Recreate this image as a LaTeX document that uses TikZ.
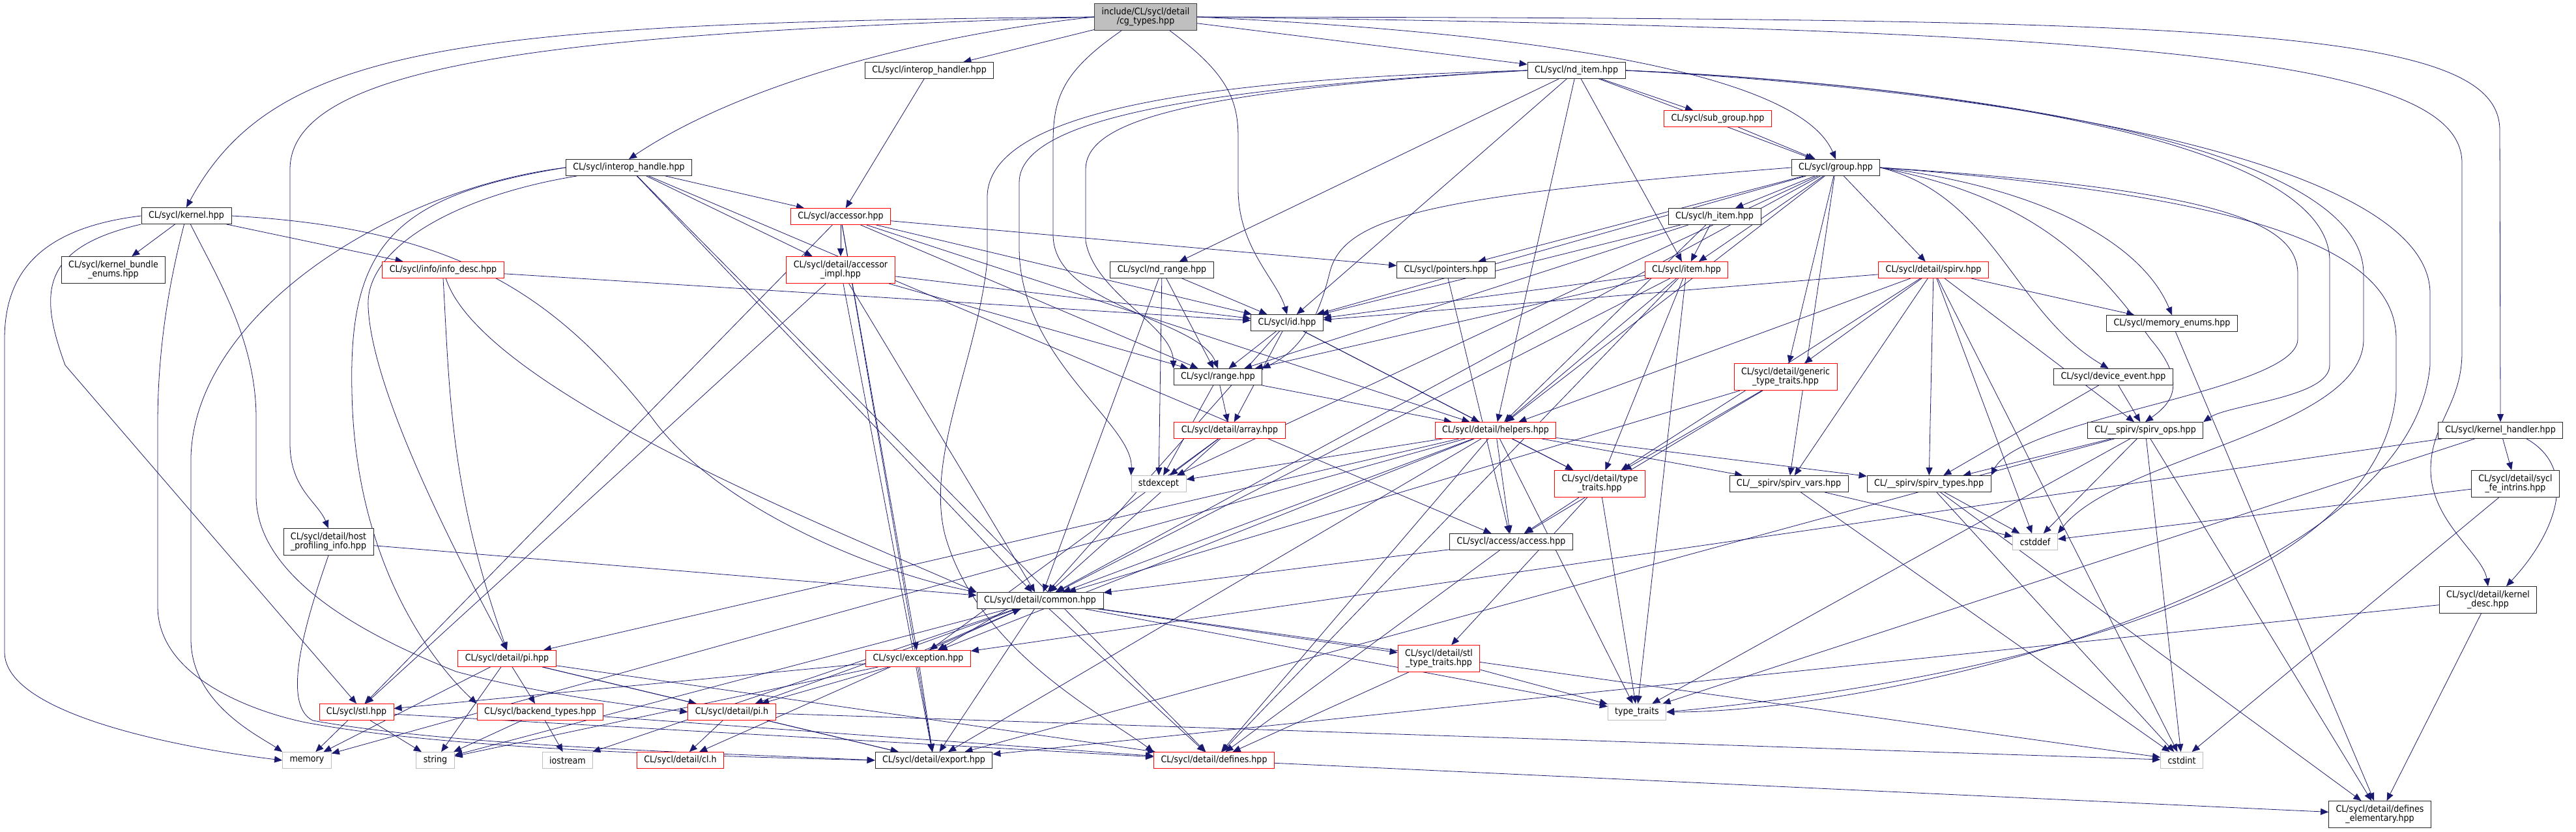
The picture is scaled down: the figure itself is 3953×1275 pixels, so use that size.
\documentclass[tikz,border=0pt]{standalone}
\usepackage{fontspec}
\setmainfont{DejaVu Sans}[FakeStretch=0.9]
\usetikzlibrary{arrows.meta, calc, backgrounds}
\definecolor{edgeblue}{HTML}{191970}
\definecolor{lightgray}{HTML}{BFBFBF}

\begin{document}
\begin{tikzpicture}[
  x=0.02cm, y=0.02cm,
  font=\fontsize{8}{8.2}\selectfont,
  file/.style    ={draw=black!85, fill=white, line width=0.5pt, align=center,
                   inner xsep=0.22cm, inner ysep=0pt, minimum height=0.5cm},
  trunc/.style   ={file, draw=red},
  sysfile/.style ={file, draw=lightgray},
  rootfile/.style={file, fill=lightgray, draw=black!75},
  twoline/.style ={minimum height=0.82cm},
  dep/.style     ={draw=edgeblue, line width=0.45pt,
                   -{Triangle[length=0.24cm, width=0.2cm]}},
]
\useasboundingbox (0,0) rectangle (3953,-1275);

% rank 0 .. 3
\node[rootfile, twoline] (root) at (1758,-26) {include/CL/sycl/detail\\/cg\_types.hpp};
\node[file]  (ihandler) at (1426,-108) {CL/sycl/interop\_handler.hpp};
\node[file]  (nditem)   at (2419,-108) {CL/sycl/nd\_item.hpp};
\node[trunc] (subgroup) at (2636,-182) {CL/sycl/sub\_group.hpp};
\node[file]  (ihandle)  at (965,-257)  {CL/sycl/interop\_handle.hpp};
\node[file]  (group)    at (2817,-257) {CL/sycl/group.hpp};

% rank 4 .. 7
\node[file]  (kernel)   at (286,-331)  {CL/sycl/kernel.hpp};
\node[trunc] (accessor) at (1290,-332) {CL/sycl/accessor.hpp};
\node[file]  (hitem)    at (2631,-332) {CL/sycl/h\_item.hpp};
\node[file, twoline]  (kbundle)  at (174,-414)  {CL/sycl/kernel\_bundle\\\_enums.hpp};
\node[trunc] (infodesc) at (680,-414)  {CL/sycl/info/info\_desc.hpp};
\node[trunc, twoline] (accimpl)  at (1290,-414) {CL/sycl/detail/accessor\\\_impl.hpp};
\node[file]  (ndrange)  at (1783,-414) {CL/sycl/nd\_range.hpp};
\node[file]  (pointers) at (2219,-414) {CL/sycl/pointers.hpp};
\node[trunc] (item)     at (2588,-414) {CL/sycl/item.hpp};
\node[trunc] (spirv)    at (2967,-414) {CL/sycl/detail/spirv.hpp};
\node[file]  (id)       at (1975,-495) {CL/sycl/id.hpp};
\node[file]  (memenums) at (3333,-496) {CL/sycl/memory\_enums.hpp};
\node[file]  (range)    at (1869,-578) {CL/sycl/range.hpp};
\node[trunc, twoline] (generic)  at (2740,-578) {CL/sycl/detail/generic\\\_type\_traits.hpp};
\node[file]  (devevent) at (3243,-578) {CL/sycl/device\_event.hpp};

% rank 8 .. 11
\node[trunc] (array)    at (1887,-660) {CL/sycl/detail/array.hpp};
\node[trunc] (helpers)  at (2295,-660) {CL/sycl/detail/helpers.hpp};
\node[file]  (spirvops) at (3292,-660) {CL/\_\_spirv/spirv\_ops.hpp};
\node[file]  (khandler) at (3837,-660) {CL/sycl/kernel\_handler.hpp};
\node[sysfile] (stdexcept) at (1778,-742) {stdexcept};
\node[trunc, twoline] (typetrd) at (2455,-742) {CL/sycl/detail/type\\\_traits.hpp};
\node[file]  (spirvvars)  at (2745,-742) {CL/\_\_spirv/spirv\_vars.hpp};
\node[file]  (spirvtypes) at (2960,-742) {CL/\_\_spirv/spirv\_types.hpp};
\node[file, twoline] (feintrins) at (3860,-742) {CL/sycl/detail/sycl\\\_fe\_intrins.hpp};
\node[file, twoline] (hostprof)  at (504,-831)  {CL/sycl/detail/host\\\_profiling\_info.hpp};
\node[file]  (access)   at (2319,-831) {CL/sycl/access/access.hpp};
\node[sysfile] (cstddef) at (3123,-831) {cstddef};
\node[file]  (common)   at (1596,-921) {CL/sycl/detail/common.hpp};
\node[file, twoline] (kdesc) at (3818,-920) {CL/sycl/detail/kernel\\\_desc.hpp};

% rank 12 .. 15
\node[trunc] (dpi)       at (778,-1010)  {CL/sycl/detail/pi.hpp};
\node[trunc] (exception) at (1409,-1010) {CL/sycl/exception.hpp};
\node[trunc, twoline] (stltt) at (2208,-1010) {CL/sycl/detail/stl\\\_type\_traits.hpp};
\node[trunc] (stl)       at (547,-1092)  {CL/sycl/stl.hpp};
\node[trunc] (backend)   at (829,-1092)  {CL/sycl/backend\_types.hpp};
\node[trunc] (pih)       at (1123,-1092) {CL/sycl/detail/pi.h};
\node[sysfile] (typetraits) at (2512,-1092) {type\_traits};
\node[sysfile] (memory)  at (471,-1166)  {memory};
\node[sysfile] (string)  at (668,-1166)  {string};
\node[sysfile] (iostream) at (871,-1166) {iostream};
\node[trunc] (clh)       at (1044,-1166) {CL/sycl/detail/cl.h};
\node[file]  (export)    at (1433,-1166) {CL/sycl/detail/export.hpp};
\node[trunc] (defines)   at (1863,-1166) {CL/sycl/detail/defines.hpp};
\node[sysfile] (cstdint) at (3348,-1166) {cstdint};
\node[file, twoline] (defel) at (3652,-1249) {CL/sycl/detail/defines\\\_elementary.hpp};

\begin{scope}[on background layer]
\fill[white] (0,0) rectangle (3953,-1275);
% includes of the root file
\draw[dep] (root.west) .. controls (700,-35) and (420,-70) .. (kernel.north);
\draw[dep] (root.west) .. controls (900,-50) and (445,-90) .. (445,-260)
  -- (445,-680) .. controls (445,-750) and (488,-770) .. (hostprof.north);
\draw[dep] (root.west) .. controls (1450,-50) and (1150,-120) .. (ihandle.north);
\draw[dep] (root) -- (ihandler);
\draw[dep] ($(root.south)+(-37,0)$) .. controls (1630,-110) and (1616,-150) .. (1616,-220)
  -- (1616,-360) .. controls (1616,-470) and (1840,-490) .. (range.north);
\draw[dep] ($(root.south)+(37,0)$) .. controls (1880,-110) and (1900,-150) .. (1900,-210)
  -- (1900,-290) .. controls (1900,-380) and (1960,-430) .. (id.north);
\draw[dep] (root) -- (nditem);
\draw[dep] (root.east) .. controls (2350,-50) and (2760,-110) .. (group.north);
\draw[dep] (root.east) .. controls (3300,-45) and (3778,-90) .. (3778,-250)
  -- (3778,-540) .. controls (3778,-620) and (3730,-650) .. (3730,-720)
  .. controls (3730,-800) and (3810,-850) .. (kdesc.north);
\draw[dep] (root.east) .. controls (3400,-28) and (3836,-40) .. (3836,-200) -- (khandler.north);

% long sweeps on the left
\draw[dep] (kernel.west) .. controls (60,-350) and (7,-420) .. (7,-520)
  -- (7,-1000) .. controls (7,-1100) and (300,-1150) .. (memory.west);
\draw[dep] (kernel.south west) .. controls (60,-380) and (60,-450) .. (100,-560) -- (stl.north);
\draw[dep] (kernel) .. controls (255,-450) and (242,-550) .. (242,-650)
  -- (242,-930) .. controls (242,-1050) and (420,-1100) .. (480,-1110)
  .. controls (700,-1150) and (1100,-1160) .. (export.west);
\draw[dep] (kernel) .. controls (330,-420) and (393,-520) .. (393,-640)
  -- (393,-760) .. controls (393,-900) and (600,-990) .. (700,-1030)
  .. controls (850,-1070) and (1000,-1085) .. (pih.west);
\draw[dep] (kernel.east) .. controls (700,-350) and (850,-450) .. (1000,-640)
  .. controls (1100,-780) and (1350,-880) .. (common.north west);
\draw[dep] (ihandle.west) .. controls (600,-290) and (300,-480) .. (293,-700)
  -- (293,-980) .. controls (293,-1080) and (400,-1130) .. (memory.north west);
\draw[dep] (ihandle.west) .. controls (600,-300) and (535,-380) .. (540,-600)
  .. controls (545,-900) and (700,-1050) .. (backend.north west);
\draw[dep] (ihandle) .. controls (700,-300) and (560,-380) .. (565,-470)
  .. controls (570,-600) and (700,-850) .. (dpi.north);
\draw[dep] (infodesc.south) .. controls (690,-600) and (690,-750) .. (dpi.north);
\draw[dep] (infodesc) .. controls (740,-600) and (1300,-820) .. (common.north west);
\draw[dep] (hostprof.south) .. controls (470,-950) and (430,-1080) .. (480,-1105)
  .. controls (700,-1145) and (1100,-1155) .. (export.west);
\draw[dep] (nditem.west) .. controls (1900,-120) and (1520,-160) .. (1515,-300)
  -- (1515,-400) .. controls (1500,-550) and (1420,-700) .. (1450,-820)
  .. controls (1500,-1000) and (1700,-1100) .. (defines.north west);
\draw[dep] (nditem.west) .. controls (1800,-140) and (1666,-190) .. (1666,-260)
  -- (1666,-370) .. controls (1680,-450) and (1800,-500) .. (range.north west);
\draw[dep] (nditem.west) .. controls (1850,-135) and (1564,-180) .. (1564,-280)
  -- (1564,-380) .. controls (1564,-550) and (1740,-650) .. (stdexcept.north west);
\draw[dep] (group.west) .. controls (2200,-300) and (2060,-330) .. (2040,-420)
  .. controls (2020,-500) and (1990,-540) .. (range.north east);

% long sweeps on the right
\draw[dep] (nditem.east) .. controls (2900,-125) and (3575,-200) .. (3575,-400)
  -- (3575,-560) .. controls (3575,-610) and (3420,-620) .. (spirvops.north east);
\draw[dep] (nditem.east) .. controls (3000,-130) and (3627,-220) .. (3627,-420)
  -- (3627,-520) .. controls (3627,-660) and (3250,-700) .. (cstddef.north east);
\draw[dep] (nditem.east) .. controls (3100,-140) and (3729,-250) .. (3729,-450)
  -- (3729,-560) .. controls (3700,-900) and (2900,-1092) .. (typetraits.east);
\draw[dep] (group.east) .. controls (3400,-290) and (3526,-340) .. (3526,-420)
  -- (3526,-520) .. controls (3526,-600) and (3100,-640) .. (spirvtypes.north east);
\draw[dep] (group.east) .. controls (3450,-300) and (3677,-380) .. (3677,-520)
  -- (3677,-600) .. controls (3650,-950) and (2900,-1060) .. (typetraits.east);
\draw[dep] (group.east) .. controls (3150,-290) and (3290,-380) .. (memenums.north);
\draw[dep] (group.east) .. controls (3060,-300) and (3090,-480) .. (devevent.120);
\draw[dep] (group.east) .. controls (3100,-300) and (3200,-380) .. (3300,-520)
  .. controls (3360,-590) and (3330,-620) .. (spirvops.north);
\draw[dep] ($(khandler.south)+(40,0)$) .. controls (3960,-720) and (3920,-820)
  .. ($(kdesc.north)+(28,0)$);
\draw[dep] ($(common.south)+(-50,0)$) -- ($(exception.north)+(30,0)$);
\draw[dep] ($(exception.north)+(10,0)$) -- ($(common.south)+(-30,0)$);

% all other includes
\foreach \src/\dst in {
  ihandler/accessor,
  ihandle/accessor, ihandle/accimpl,
  ihandle/common, ihandle/access, ihandle/defines,
  kernel/kbundle, kernel/infodesc,
  infodesc/id,
  hostprof/common,
  accessor/accimpl, accessor/id, accessor/pointers, accessor/range, accessor/helpers,
  accessor/stl, accessor/export, accessor/exception,
  accimpl/id, accimpl/range, accimpl/stl, accimpl/export, accimpl/common,
  ndrange/id, ndrange/range, ndrange/stdexcept, ndrange/common,
  id/range, id/array, id/common, id/helpers, id/typetrd,
  range/array, range/helpers, range/stdexcept,
  array/stdexcept, array/exception, array/common,
  nditem/subgroup, nditem/group, nditem/item, nditem/ndrange, nditem/id,
  nditem/helpers,
  subgroup/group,
  group/hitem, group/pointers, group/item, group/spirv, group/generic, group/id,
  group/helpers, group/common, group/stdexcept, group/spirvvars,
  hitem/item, hitem/id, hitem/range, hitem/helpers,
  item/id, item/range, item/helpers, item/typetrd, item/defines, item/common,
  item/typetraits,
  pointers/access,
  spirv/id, spirv/generic, spirv/memenums, spirv/spirvops, spirv/spirvtypes,
  spirv/spirvvars, spirv/helpers, spirv/typetrd, spirv/cstddef, spirv/cstdint,
  generic/typetrd, generic/access, generic/common,
  devevent/spirvops, devevent/spirvtypes,
  memenums/defel,
  spirvops/spirvtypes, spirvops/cstddef, spirvops/cstdint, spirvops/defel,
  spirvops/export, spirvops/typetraits,
  spirvtypes/cstddef, spirvtypes/cstdint, spirvtypes/defel,
  spirvvars/cstddef, spirvvars/cstdint,
  helpers/typetrd, helpers/access, helpers/spirvvars, helpers/spirvtypes,
  helpers/stdexcept, helpers/common, helpers/export, helpers/defines,
  helpers/typetraits, helpers/dpi, helpers/memory, helpers/exception,
  typetrd/access, typetrd/stltt, typetrd/typetraits,
  access/common, access/defines,
  stltt/typetraits, stltt/defines,
  khandler/feintrins, khandler/exception, khandler/typetraits,
  feintrins/cstddef, feintrins/cstdint,
  kdesc/defel, kdesc/export,
  common/stltt, common/defines, common/export, common/clh, common/pih,
  common/string, common/iostream, common/cstdint, common/typetraits,
  exception/stl, exception/pih, exception/export, exception/string,
  dpi/memory, dpi/string, dpi/backend, dpi/pih, dpi/export, dpi/defines,
  pih/clh, pih/export, pih/cstdint,
  stl/memory, stl/string, stl/defines,
  backend/string, backend/iostream, backend/defines,
  defines/defel}
  \draw[dep] (\src) -- (\dst);
\end{scope}
\end{tikzpicture}
\end{document}
